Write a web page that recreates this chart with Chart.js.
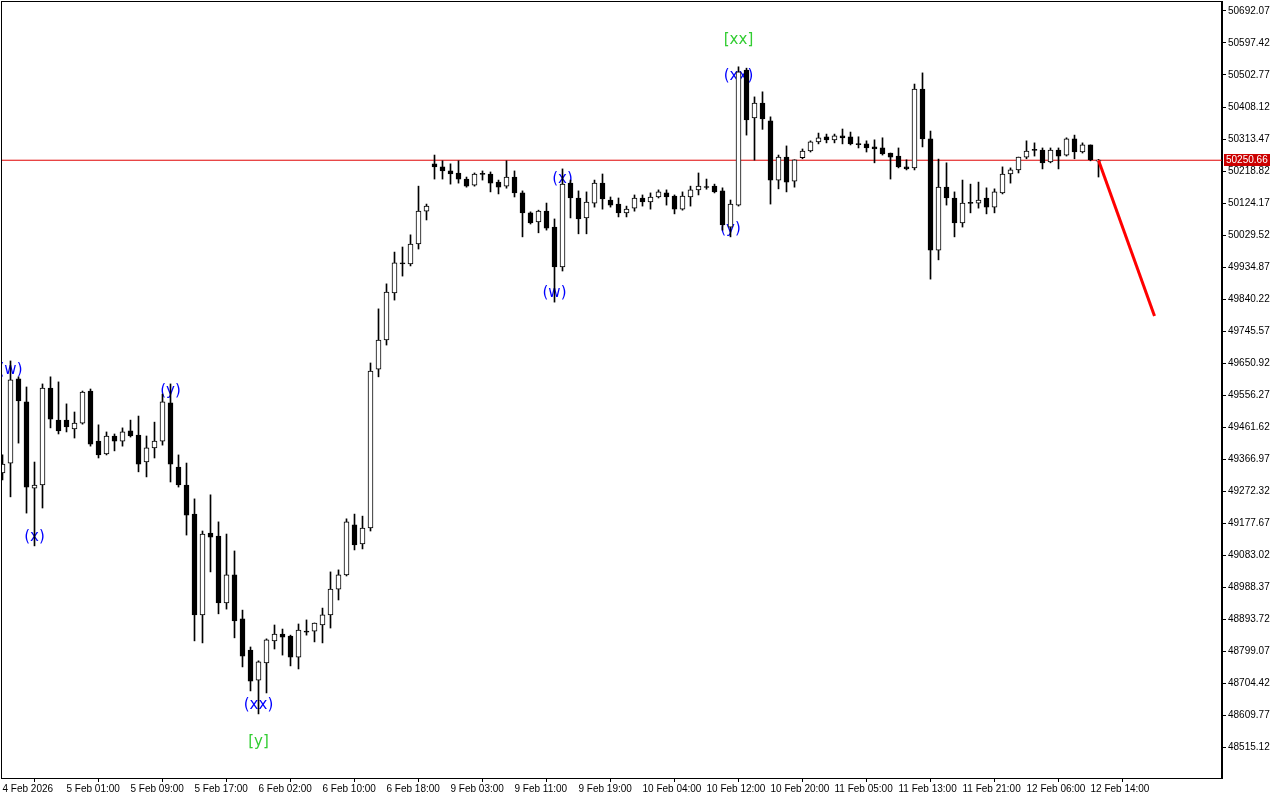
<!DOCTYPE html>
<html>
<head>
<meta charset="utf-8">
<title>BTC H1</title>
<script src="https://cdn.jsdelivr.net/npm/chart.js@4.4.1/dist/chart.umd.min.js"></script>
<style>
  html, body { margin: 0; padding: 0; background: #fff; }
  #wrap { width: 1280px; height: 800px; }
</style>
</head>
<body>
<div id="wrap"><canvas id="chart"></canvas></div>
<script>
// x-axis labels, one every 8 bars
const tickLabels = [
  "4 Feb 2026", "5 Feb 01:00", "5 Feb 09:00", "5 Feb 17:00", "6 Feb 02:00", "6 Feb 10:00",
  "6 Feb 18:00", "9 Feb 03:00", "9 Feb 11:00", "9 Feb 19:00", "10 Feb 04:00", "10 Feb 12:00",
  "10 Feb 20:00", "11 Feb 05:00", "11 Feb 13:00", "11 Feb 21:00", "12 Feb 06:00", "12 Feb 14:00"
];

const yTicks = [
  50692.07, 50597.42, 50502.77, 50408.12, 50313.47, 50218.82, 50124.17, 50029.52,
  49934.87, 49840.22, 49745.57, 49650.92, 49556.27, 49461.62, 49366.97, 49272.32,
  49177.67, 49083.02, 48988.37, 48893.72, 48799.07, 48704.42, 48609.77, 48515.12
];

// H1 candles
const opens = [
  49326, 49355, 49604, 49536, 49281, 49290, 49577, 49482, 49482, 49456,
  49473, 49568, 49420, 49382, 49435, 49420, 49450, 49438, 49358, 49400,
  49420, 49533, 49343, 49290, 49204, 48906, 49148, 49139, 48941, 49024,
  48894, 48802, 48713, 48764, 48829, 48849, 48843, 48781, 48858, 48858,
  48876, 48906, 48982, 49024, 49172, 49116, 49163, 49633, 49719, 49858,
  49947, 49944, 50003, 50100, 50240, 50231, 50219, 50213, 50195, 50177,
  50210, 50210, 50186, 50174, 50201, 50154, 50095, 50068, 50100, 50053,
  49935, 50183, 50139, 50080, 50124, 50183, 50133, 50121, 50095, 50109,
  50139, 50127, 50142, 50154, 50145, 50106, 50142, 50163, 50171, 50174,
  50160, 50053, 50118, 50517, 50376, 50420, 50367, 50192, 50260, 50189,
  50258, 50278, 50305, 50320, 50311, 50323, 50320, 50299, 50299, 50290,
  50287, 50272, 50263, 50231, 50228, 50461, 50314, 49985, 50171, 50139,
  50065, 50124, 50124, 50139, 50112, 50154, 50210, 50222, 50260, 50281,
  50281, 50246, 50281, 50266, 50314, 50275, 50296, 50248
];
const highs = [
  49379, 49657, 49610, 49580, 49358, 49589, 49610, 49595, 49530, 49506,
  49568, 49574, 49468, 49447, 49441, 49459, 49482, 49494, 49435, 49476,
  49559, 49589, 49379, 49355, 49249, 49154, 49261, 49181, 49145, 49095,
  48920, 48811, 48770, 48835, 48876, 48864, 48846, 48879, 48891, 48882,
  48926, 49033, 49039, 49190, 49204, 49198, 49651, 49811, 49885, 49979,
  49994, 50030, 50174, 50121, 50266, 50249, 50240, 50249, 50201, 50213,
  50219, 50216, 50192, 50249, 50219, 50160, 50098, 50103, 50124, 50077,
  50225, 50192, 50160, 50157, 50192, 50210, 50142, 50139, 50115, 50148,
  50148, 50154, 50163, 50163, 50148, 50157, 50174, 50213, 50195, 50180,
  50169, 50133, 50527, 50523, 50438, 50453, 50379, 50266, 50293, 50252,
  50284, 50308, 50331, 50328, 50328, 50343, 50334, 50320, 50308, 50311,
  50317, 50272, 50287, 50252, 50476, 50509, 50337, 50254, 50243, 50157,
  50192, 50180, 50186, 50169, 50166, 50231, 50228, 50260, 50308, 50302,
  50287, 50287, 50287, 50317, 50325, 50302, 50296, 50253
];
const lows = [
  49305, 49255, 49414, 49207, 49110, 49222, 49459, 49441, 49447, 49429,
  49470, 49405, 49370, 49379, 49391, 49405, 49432, 49329, 49314, 49370,
  49408, 49299, 49284, 49142, 48829, 48823, 49033, 48909, 48923, 48838,
  48752, 48681, 48613, 48675, 48805, 48787, 48755, 48746, 48846, 48826,
  48823, 48867, 48950, 49021, 49098, 49101, 49154, 49610, 49704, 49837,
  49908, 49938, 49988, 50074, 50195, 50195, 50180, 50183, 50171, 50174,
  50192, 50157, 50151, 50168, 50142, 50024, 50062, 50036, 50044, 49831,
  49923, 50080, 50033, 50033, 50112, 50106, 50112, 50083, 50083, 50100,
  50115, 50106, 50139, 50118, 50092, 50103, 50115, 50148, 50165, 50154,
  50044, 50024, 50115, 50325, 50251, 50342, 50121, 50166, 50157, 50171,
  50255, 50275, 50299, 50302, 50302, 50299, 50296, 50287, 50275, 50243,
  50266, 50195, 50228, 50222, 50222, 50290, 49899, 49956, 50118, 50024,
  50053, 50095, 50109, 50092, 50095, 50151, 50183, 50213, 50255, 50263,
  50225, 50243, 50225, 50263, 50255, 50272, 50249, 50201
];
const closes = [
  49352, 49601, 49539, 49284, 49290, 49577, 49485, 49450, 49462, 49473,
  49565, 49411, 49379, 49435, 49420, 49447, 49435, 49352, 49400, 49420,
  49536, 49352, 49290, 49201, 48906, 49145, 49136, 48941, 49024, 48888,
  48784, 48710, 48767, 48832, 48849, 48840, 48781, 48861, 48855, 48882,
  48906, 48982, 49024, 49181, 49113, 49163, 49627, 49719, 49861, 49947,
  49944, 50003, 50100, 50115, 50231, 50219, 50210, 50195, 50174, 50210,
  50209, 50183, 50171, 50201, 50154, 50095, 50065, 50100, 50050, 49935,
  50180, 50139, 50077, 50127, 50183, 50136, 50118, 50095, 50106, 50139,
  50127, 50142, 50157, 50142, 50106, 50145, 50163, 50174, 50170, 50157,
  50059, 50121, 50512, 50370, 50420, 50373, 50192, 50260, 50186, 50252,
  50278, 50305, 50317, 50311, 50323, 50317, 50299, 50297, 50287, 50284,
  50269, 50260, 50231, 50225, 50461, 50314, 49985, 50171, 50139, 50065,
  50124, 50123, 50133, 50112, 50157, 50210, 50222, 50260, 50278, 50280,
  50243, 50281, 50263, 50314, 50275, 50296, 50252, 50250.66
];

const currentPrice = 50250.66;

// forecast arrow (bar index, price)
const forecastIdx = [137, 144];
const forecastPrices = [50250.66, 49790];

// wave marks
const waveTexts = ["(w)", "(x)", "(y)", "(xx)", "[y]", "(w)", "(x)", "(y)", "(xx)", "[xx]"];
const waveIdx = [1, 4, 21, 32, 32, 69, 70, 91, 92, 92];
const wavePrices = [49630, 49136, 49568, 48639, 48530, 49858, 50195, 50047, 50500, 50606];
const waveDegree = ["minor", "minor", "minor", "minor", "major", "minor", "minor", "minor", "minor", "major"];

const X_MIN = -0.0625, X_MAX = 152.4375;
const Y_MIN = 48423.43, Y_MAX = 50718.69;

const tickFont = { family: "Liberation Sans", size: 10 };

// wave labels go under the candles, clipped to the plot
const pluginVagues = {
  id: "vagues",
  beforeDatasetsDraw(chart) {
    const { ctx, chartArea: a, scales: { x, y } } = chart;
    ctx.save();
    ctx.beginPath();
    ctx.rect(a.left, a.top, a.right - a.left, a.bottom - a.top);
    ctx.clip();
    ctx.font = '15px "DejaVu Sans"';
    ctx.textAlign = "center";
    ctx.textBaseline = "middle";
    waveTexts.forEach((t, k) => {
      ctx.fillStyle = waveDegree[k] === "major" ? "#32cd32" : "#0000ff";
      ctx.fillText(t, x.getPixelForValue(waveIdx[k]), y.getPixelForValue(wavePrices[k]));
    });
    ctx.restore();
  }
};

// frame + current price tag on the axis
const pluginCadre = {
  id: "cadre",
  afterDraw(chart) {
    const { ctx, chartArea: a, scales: { y } } = chart;
    ctx.save();
    ctx.strokeStyle = "#000";
    ctx.lineWidth = 1;
    ctx.strokeRect(a.left - 0.5, a.top - 0.5, a.right - a.left + 1, a.bottom - a.top + 1);

    const py = Math.round(y.getPixelForValue(currentPrice));
    ctx.fillStyle = "#cc0000";
    ctx.fillRect(a.right + 2, py - 6, 46, 12);
    ctx.fillStyle = "#fff";
    ctx.font = '10px "Liberation Sans"';
    ctx.textAlign = "left";
    ctx.textBaseline = "middle";
    ctx.fillText(currentPrice.toFixed(2), a.right + 4, py + 0.5);
    ctx.restore();
  }
};

const ctx = document.getElementById("chart").getContext("2d");

new Chart(ctx, {
  type: "bar",
  data: {
    datasets: [
      {
        type: "line",
        data: [{ x: X_MIN, y: currentPrice }, { x: X_MAX, y: currentPrice }],
        borderColor: "#e00000",
        borderWidth: 1,
        pointRadius: 0,
        order: 3
      },
      {
        type: "bar",
        data: lows.map((l, i) => ({ x: i, y: [l, highs[i]] })),
        backgroundColor: "#000",
        barThickness: 1,
        grouped: false,
        order: 2
      },
      {
        type: "bar",
        data: opens.map((o, i) => ({ x: i, y: [o, closes[i]] })),
        backgroundColor: opens.map((o, i) => (closes[i] > o ? "#fff" : "#000")),
        borderColor: "#000",
        borderWidth: 1,
        borderSkipped: false,
        barThickness: 5,
        minBarLength: 1,
        grouped: false,
        order: 1
      },
      {
        type: "line",
        data: forecastIdx.map((v, k) => ({ x: v, y: forecastPrices[k] })),
        borderColor: "#ff0000",
        borderWidth: 3,
        pointRadius: 0,
        order: 0
      }
    ]
  },
  options: {
    responsive: true,
    maintainAspectRatio: false,
    animation: false,
    devicePixelRatio: 1,
    layout: { padding: { left: 2, top: 2, right: 0, bottom: 0 } },
    plugins: {
      legend: { display: false },
      tooltip: { enabled: false }
    },
    scales: {
      x: {
        type: "linear",
        min: X_MIN,
        max: X_MAX,
        offset: false,
        grid: { drawOnChartArea: false, drawTicks: true, tickLength: 4, tickColor: "#000" },
        border: { display: true, color: "#000" },
        afterBuildTicks: (s) => { s.ticks = tickLabels.map((_, k) => ({ value: k * 8 })); },
        afterFit: (s) => { s.height = 22; s.paddingLeft = 0; s.paddingRight = 0; },
        ticks: {
          autoSkip: false,
          maxRotation: 0,
          align: "start",
          padding: 1,
          color: "#000",
          font: tickFont,
          callback: (v) => tickLabels[Math.round(v / 8)]
        }
      },
      y: {
        position: "right",
        min: Y_MIN,
        max: Y_MAX,
        grid: { drawOnChartArea: false, drawTicks: true, tickLength: 4, tickColor: "#000" },
        border: { display: true, color: "#000", width: 2 },
        afterBuildTicks: (s) => { s.ticks = yTicks.map((v) => ({ value: v })); },
        afterFit: (s) => { s.width = 58; s.paddingTop = 0; s.paddingBottom = 0; },
        ticks: {
          autoSkip: false,
          padding: 2,
          color: "#000",
          font: tickFont,
          callback: (v) => Number(v).toFixed(2)
        }
      }
    }
  },
  plugins: [pluginVagues, pluginCadre]
});
</script>
</body>
</html>
